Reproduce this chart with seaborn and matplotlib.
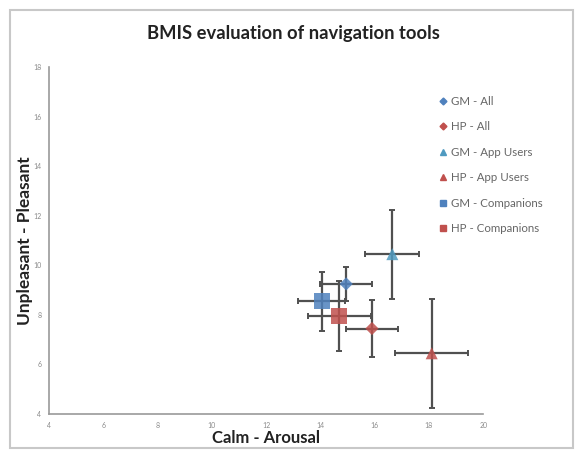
import numpy as np
import pandas as pd
import matplotlib
matplotlib.use('Agg')
import matplotlib.pyplot as plt
import seaborn as sns
from matplotlib.lines import Line2D
from matplotlib.patches import Rectangle

# Data
series = ['GM - All', 'HP - All', 'GM - App Users', 'HP - App Users', 'GM - Companions', 'HP - Companions']
arousal = [14.95, 15.9, 16.65, 18.1, 14.05, 14.7]
pleasant = [9.25, 7.45, 10.45, 6.45, 8.55, 7.95]
arousal_err = [0.95, 0.95, 1.0, 1.35, 0.87, 1.15]
pleasant_err = [0.7, 1.15, 1.8, 2.2, 1.2, 1.4]

colors = {'GM - All': '#4f81bd', 'HP - All': '#c0504d',
          'GM - App Users': '#4f9ac0', 'HP - App Users': '#c0504d',
          'GM - Companions': '#4f81bd', 'HP - Companions': '#c0504d'}
markers = {'GM - All': 'D', 'HP - All': 'D', 'GM - App Users': '^', 'HP - App Users': '^',
           'GM - Companions': 's', 'HP - Companions': 's'}
sizes = {'GM - All': 45, 'HP - All': 45, 'GM - App Users': 75, 'HP - App Users': 75,
         'GM - Companions': 130, 'HP - Companions': 130}

df = pd.DataFrame({'series': series, 'x': arousal, 'y': pleasant,
                   'xerr': arousal_err, 'yerr': pleasant_err})

sns.set_style('white')
plt.rcParams['font.family'] = ['Lato', 'DejaVu Sans']

fig = plt.figure(figsize=(5.76, 4.5), dpi=100)
ax = fig.add_axes([0.085, 0.08, 0.754, 0.771])

# error bars first, markers on top
ax.errorbar(df['x'], df['y'], xerr=df['xerr'], yerr=df['yerr'], fmt='none',
            ecolor='#505050', elinewidth=1.6, capsize=2.5, capthick=1.4, zorder=2)

for s in series:
    sub = df[df['series'] == s]
    sns.scatterplot(data=sub, x='x', y='y', color=colors[s], marker=markers[s],
                    s=sizes[s], edgecolor='none', alpha=0.85, ax=ax, zorder=3)

ax.set_xlim(4, 20)
ax.set_ylim(4, 18)
ax.set_xticks(np.arange(4, 21, 2))
ax.set_yticks(np.arange(4, 19, 2))
ax.tick_params(axis='both', labelsize=5, colors='#8a8a8a', length=2, direction='out')
for sp in ['top', 'right']:
    ax.spines[sp].set_visible(False)
for sp in ['left', 'bottom']:
    ax.spines[sp].set_color('#9a9a9a')
    ax.spines[sp].set_linewidth(1.2)

ax.set_xlabel('Calm - Arousal', fontsize=12, fontweight='bold', color='#222222', labelpad=1)
ax.set_ylabel('Unpleasant - Pleasant', fontsize=12.5, fontweight='bold', color='#222222')
ax.yaxis.set_label_coords(-0.037, 0.5)
fig.text(0.51, 0.926, 'BMIS evaluation of navigation tools', ha='center', va='center',
         fontsize=13.2, fontweight='bold', color='#222222')

handles = [Line2D([], [], linestyle='none', marker=markers[s], color=colors[s],
                  markersize={'D': 3.5, '^': 4.5, 's': 5}[markers[s]]) for s in series]
leg = ax.legend(handles, series, loc='upper left', bbox_to_anchor=(0.885, 0.93),
                frameon=False, fontsize=8.3, labelspacing=1.25, handletextpad=0.35,
                handlelength=0.8, borderaxespad=0)
for t in leg.get_texts():
    t.set_color('#666666')

fig.patches.append(Rectangle((0.017, 0.004), 0.978, 0.974, transform=fig.transFigure,
                             fill=False, edgecolor='#c8c8c8', linewidth=1.5))

fig.savefig('out.png', dpi=100)
